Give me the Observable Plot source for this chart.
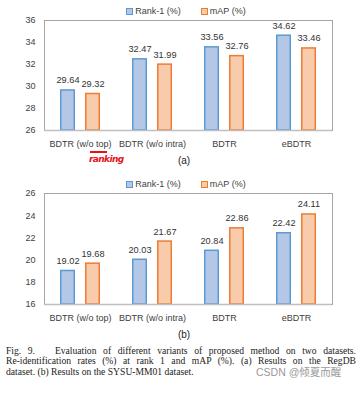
<!DOCTYPE html>
<html>
<head>
<meta charset="utf-8">
<script src="https://cdn.jsdelivr.net/npm/d3@7"></script>
<script src="https://cdn.jsdelivr.net/npm/@observablehq/plot@0.6"></script>
<style>
  html, body { margin: 0; padding: 0; background: #fff; }
  #root { position: relative; width: 362px; height: 403px; overflow: hidden; background: #fff; }
  .abs { position: absolute; }
  .legend { position: absolute; left: 5px; width: 362px; display: flex; justify-content: center; gap: 20px;
            font-family: "Liberation Sans", Arial, sans-serif; font-size: 9px; line-height: 10px; color: #404040; }
  .legend .item { display: flex; align-items: center; gap: 2px; }
  .legend .sw { width: 5px; height: 5px; border: 1px solid; display: inline-block; }
  .sub { position: absolute; left: 0; width: 368px; text-align: center; font-family: "Liberation Sans", Arial, sans-serif;
         font-size: 10px; line-height: 12px; color: #222; }
  .cap { position: absolute; left: 6px; font-family: "Liberation Serif", "Times New Roman", serif;
         font-size: 9.6px; line-height: 10px; color: #222; white-space: nowrap; }
  .just { width: 350px; text-align: justify; text-align-last: justify; white-space: normal; }
</style>
</head>
<body>
<div id="root"></div>
<script>
const categories = ["BDTR (w/o top)", "BDTR (w/o intra)", "BDTR", "eBDTR"];
const seriesNames = ["Rank-1 (%)", "mAP (%)"];
const rankA = [29.64, 32.47, 33.56, 34.62];
const mapA  = [29.32, 31.99, 32.76, 33.46];
const rankB = [19.02, 20.03, 20.84, 22.42];
const mapB  = [19.68, 21.67, 22.86, 24.11];
const ticksA = [26, 28, 30, 32, 34, 36];
const ticksB = [16, 18, 20, 22, 24, 26];
const fills = ["#b4c7e7", "#f8cbad"];
const strokes = ["#5b9bd5", "#ed7d31"];
const captionLines = [
  "Fig. 9.\u00a0\u00a0\u00a0Evaluation of different variants of proposed method on two datasets.",
  "Re-identification rates (%) at rank 1 and mAP (%). (a) Results on the RegDB",
  "dataset. (b) Results on the SYSU-MM01 dataset."
];
const watermark = "CSDN @倾夏而醒";

const root = document.getElementById("root");

function legend(top) {
  const div = document.createElement("div");
  div.className = "legend";
  div.style.top = top + "px";
  seriesNames.forEach((s, i) => {
    const it = document.createElement("span");
    it.className = "item";
    const sw = document.createElement("span");
    sw.className = "sw";
    sw.style.background = fills[i];
    sw.style.borderColor = strokes[i];
    it.appendChild(sw);
    const t = document.createElement("span");
    t.textContent = s;
    it.appendChild(t);
    div.appendChild(it);
  });
  root.appendChild(div);
}

function chart(rank, map, ticks, top, height) {
  const data = [];
  categories.forEach((c, i) => {
    data.push({cat: c, series: seriesNames[0], value: rank[i]});
    data.push({cat: c, series: seriesNames[1], value: map[i]});
  });
  const strokeOf = d => strokes[seriesNames.indexOf(d.series)];
  const p = Plot.plot({
    width: 362, height,
    marginTop: 6, marginBottom: 24, marginLeft: 42, marginRight: 29,
    style: {fontFamily: "'Liberation Sans', Arial, sans-serif", fontSize: "9px", color: "#404040", background: "transparent"},
    fx: {domain: categories, padding: 0, label: null, axis: "bottom", tickSize: 0, tickPadding: 10},
    x: {domain: seriesNames, paddingInner: 0.42, paddingOuter: 0.61, axis: null},
    y: {domain: [ticks[0], ticks[ticks.length - 1]], ticks, tickSize: 0, tickPadding: 9, label: null},
    color: {domain: seriesNames, range: fills},
    marks: [
      Plot.frame({facet: "super", stroke: "#a6a6a6"}),
      Plot.barY(data, {fx: "cat", x: "series", y1: () => ticks[0], y2: "value", fill: "series",
                       stroke: strokeOf, strokeWidth: 1.5, insetLeft: 0.75, insetRight: 0.75}),
      Plot.text(data, {fx: "cat", x: "series", y: "value", text: d => d.value.toFixed(2),
                       dy: -7, lineAnchor: "bottom", fill: "#333", fontSize: 9.2}),
      Plot.ruleY([ticks[0]], {stroke: "#bfbfbf", strokeWidth: 1.5})
    ]
  });
  p.style.position = "absolute";
  p.style.left = "0px";
  p.style.top = top + "px";
  root.appendChild(p);
}

legend(6);
chart(rankA, mapA, ticksA, 14, 140);
legend(179);
chart(rankB, mapB, ticksB, 187, 141);

function sub(text, top) {
  const d = document.createElement("div");
  d.className = "sub";
  d.style.top = top + "px";
  d.textContent = text;
  root.appendChild(d);
}
sub("(a)", 155);
sub("(b)", 329);

// handwritten red annotation
const ann = document.createElement("div");
ann.className = "abs";
ann.style.cssText = "left:89px;top:154px;font-family:'DejaVu Sans',sans-serif;font-size:9px;font-style:italic;font-weight:bold;color:#e8101a;letter-spacing:-0.6px;line-height:11px;";
ann.textContent = "ranking";
root.appendChild(ann);
const bar = document.createElement("div");
bar.className = "abs";
bar.style.cssText = "left:90px;top:151px;width:17px;height:1.5px;background:#e8101a;";
root.appendChild(bar);

const capTops = [346, 356, 367];
captionLines.forEach((line, i) => {
  const d = document.createElement("div");
  d.className = "cap" + (i < 2 ? " just" : "");
  d.style.top = capTops[i] + "px";
  d.textContent = line;
  root.appendChild(d);
});
const wm = document.createElement("div");
wm.className = "abs";
wm.style.cssText = "left:256px;top:367px;font-family:'Liberation Sans','Noto Sans CJK SC',sans-serif;font-size:10.5px;line-height:11px;color:#9a9a9a;";
wm.textContent = watermark;
root.appendChild(wm);
</script>
</body>
</html>
